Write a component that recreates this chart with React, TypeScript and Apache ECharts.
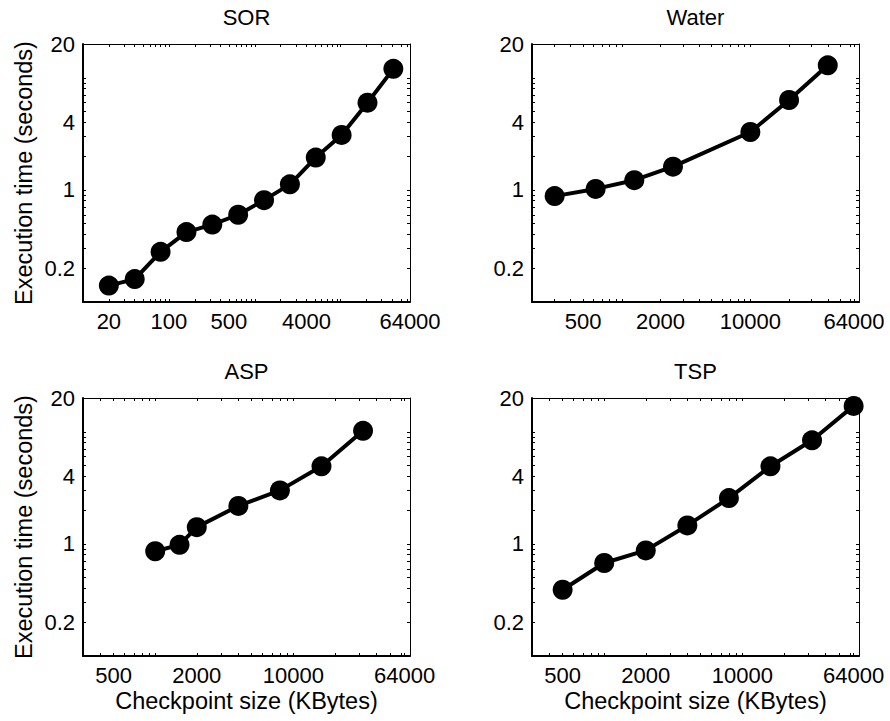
import React, { useEffect, useRef } from 'react';
import * as echarts from 'echarts';

// ---- data (checkpoint size in KBytes, execution time in seconds) ----
const SOR_SIZE = [20, 40, 80, 160, 320, 640, 1280, 2560, 5120, 10240, 20480, 40960];
const SOR_TIME = [0.14, 0.16, 0.28, 0.42, 0.49, 0.6, 0.81, 1.12, 1.94, 3.09, 5.99, 12.0];

const WATER_SIZE = [300, 625, 1250, 2500, 10000, 20000, 40000];
const WATER_TIME = [0.88, 1.02, 1.22, 1.61, 3.28, 6.33, 12.9];

const ASP_SIZE = [1000, 1500, 2000, 4000, 8000, 16000, 32000];
const ASP_TIME = [0.86, 0.98, 1.41, 2.18, 3.0, 4.92, 10.2];

const TSP_SIZE = [500, 1000, 2000, 4000, 8000, 16000, 32000, 64000];
const TSP_TIME = [0.39, 0.675, 0.875, 1.46, 2.56, 4.92, 8.39, 17.0];

const Y_TICK_LABELS = [0.2, 1, 4, 20];
const Y_RANGE = [0.1, 20];
const SOR_X_TICK_LABELS = [20, 100, 500, 4000, 64000];
const X_TICK_LABELS = [500, 2000, 10000, 64000];
const SOR_X_RANGE = [10, 64000];
const WATER_X_RANGE = [200, 70000];
const ASP_X_RANGE = [300, 70000];
const TSP_X_RANGE = [300, 70000];

const TITLES = ['SOR', 'Water', 'ASP', 'TSP'];
const X_NAME = 'Checkpoint size (KBytes)';
const Y_NAME = 'Execution time (seconds)';

const FONT = '"Liberation Sans", Arial, Helvetica, sans-serif';
const TICK_FONT = 22;
const NAME_FONT = 23.5;
const TITLE_FONT = 22;

const GRID_LEFTS = [83, 532];
const GRID_TOPS = [44, 398];
const GRID_W = 327;
const GRID_H = 258;

const lg = (v: number) => Math.log10(v);

function allTicks(range: number[], labels: number[]): number[] {
  const out: number[] = [];
  for (let k = -3; k <= 6; k++) {
    for (let n = 1; n <= 9; n++) {
      const v = n * Math.pow(10, k);
      const l = lg(v);
      if (l >= lg(range[0]) - 1e-9 && l <= lg(range[1]) + 1e-9) out.push(l);
    }
  }
  labels.forEach((v) => out.push(lg(v)));
  return out;
}

const fmt = (v: number) => String(parseFloat(Math.pow(10, v).toPrecision(3)));

export default function App() {
  const ref = useRef<HTMLDivElement>(null);
  useEffect(() => {
    if (!ref.current) return;
    const chart = echarts.init(ref.current, undefined, { renderer: 'svg' });

    const panels = [
      { size: SOR_SIZE, time: SOR_TIME, xr: SOR_X_RANGE, xl: SOR_X_TICK_LABELS, col: 0, row: 0 },
      { size: WATER_SIZE, time: WATER_TIME, xr: WATER_X_RANGE, xl: X_TICK_LABELS, col: 1, row: 0 },
      { size: ASP_SIZE, time: ASP_TIME, xr: ASP_X_RANGE, xl: X_TICK_LABELS, col: 0, row: 1 },
      { size: TSP_SIZE, time: TSP_TIME, xr: TSP_X_RANGE, xl: X_TICK_LABELS, col: 1, row: 1 },
    ];

    const grid: any[] = [];
    const xAxis: any[] = [];
    const yAxis: any[] = [];
    const series: any[] = [];
    const textStyle = { color: '#000', fontFamily: FONT };

    panels.forEach((p, i) => {
      grid.push({
        left: GRID_LEFTS[p.col],
        top: GRID_TOPS[p.row],
        width: GRID_W,
        height: GRID_H,
        outerBoundsMode: 'none',
        containLabel: false,
      });
      const xTicks = allTicks(p.xr, p.xl);
      const yTicks = allTicks(Y_RANGE, Y_TICK_LABELS);
      const common = {
        gridIndex: i,
        type: 'value',
        splitLine: { show: false },
        axisPointer: { show: false },
      };
      // bottom x axis
      xAxis.push({
        ...common,
        position: 'bottom',
        min: lg(p.xr[0]),
        max: lg(p.xr[1]),
        axisLine: { show: true, onZero: false, lineStyle: { color: '#000', width: 2 } },
        axisTick: { show: true, inside: true, length: 3, customValues: xTicks, lineStyle: { color: '#000', width: 1 } },
        axisLabel: {
          show: true,
          customValues: p.xl.map(lg),
          formatter: fmt,
          ...textStyle,
          fontSize: TICK_FONT,
          margin: 8,
        },
        name: p.row === 1 ? X_NAME : '',
        nameLocation: 'middle',
        nameGap: 33,
        nameTextStyle: { ...textStyle, fontSize: NAME_FONT },
      });
      // top x axis (box) with title
      xAxis.push({
        ...common,
        position: 'top',
        min: lg(p.xr[0]),
        max: lg(p.xr[1]),
        axisLine: { show: true, onZero: false, lineStyle: { color: '#000', width: 1 } },
        axisTick: { show: true, inside: true, length: 3, customValues: xTicks, lineStyle: { color: '#000', width: 1 } },
        axisLabel: { show: false },
        name: TITLES[i],
        nameLocation: 'middle',
        nameGap: 16,
        nameTextStyle: { ...textStyle, fontSize: TITLE_FONT },
      });
      // left y axis
      yAxis.push({
        ...common,
        position: 'left',
        min: lg(Y_RANGE[0]),
        max: lg(Y_RANGE[1]),
        axisLine: { show: true, onZero: false, lineStyle: { color: '#000', width: 2 } },
        axisTick: { show: true, inside: true, length: 3, customValues: yTicks, lineStyle: { color: '#000', width: 1 } },
        axisLabel: {
          show: true,
          customValues: Y_TICK_LABELS.map(lg),
          formatter: fmt,
          ...textStyle,
          fontSize: TICK_FONT,
          margin: 8,
        },
        name: p.col === 0 ? Y_NAME : '',
        nameLocation: 'middle',
        nameGap: 47,
        nameTextStyle: { ...textStyle, fontSize: NAME_FONT },
      });
      // right y axis (box)
      yAxis.push({
        ...common,
        position: 'right',
        min: lg(Y_RANGE[0]),
        max: lg(Y_RANGE[1]),
        axisLine: { show: true, onZero: false, lineStyle: { color: '#000', width: 1 } },
        axisTick: { show: true, inside: true, length: 3, customValues: yTicks, lineStyle: { color: '#000', width: 1 } },
        axisLabel: { show: false },
      });
      series.push({
        type: 'line',
        xAxisIndex: 2 * i,
        yAxisIndex: 2 * i,
        data: p.size.map((s, j) => [lg(s), lg(p.time[j])]),
        symbol: 'circle',
        symbolSize: 20,
        showSymbol: true,
        clip: false,
        lineStyle: { color: '#000', width: 4 },
        itemStyle: { color: '#000' },
        z: 5,
      });
    });

    chart.setOption({
      animation: false,
      backgroundColor: '#fff',
      grid,
      xAxis,
      yAxis,
      series,
    });
    return () => chart.dispose();
  }, []);
  return <div ref={ref} style={{ position: 'absolute', left: 0, top: 0, width: 890, height: 721 }} />;
}
